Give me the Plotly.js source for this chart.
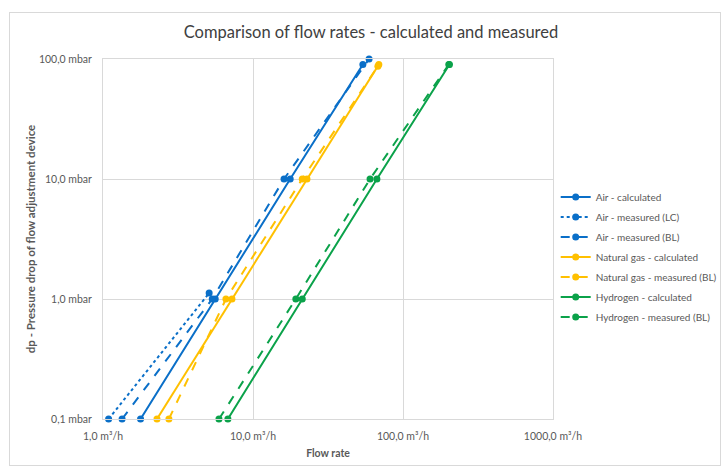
<!DOCTYPE html>
<html>
<head>
<meta charset="utf-8">
<script src="https://cdn.plot.ly/plotly-3.0.1.min.js"></script>
<style>
html,body{margin:0;padding:0;background:#fff;}
#wrap{position:relative;width:726px;height:472px;}
#chart{width:726px;height:472px;}
#frame{position:absolute;left:9px;top:12px;width:710px;height:452px;border:1px solid #d9d9d9;pointer-events:none;}
</style>
</head>
<body>
<div id="wrap"><div id="chart"></div><div id="frame"></div></div>
<script>
// Air
const airCalcQ = [1.78, 5.6, 17.7, 54];
const airCalcDp = [0.1, 1, 10, 90];
const airLcQ = [1.09, 5.1];
const airLcDp = [0.1, 1.12];
const airBlQ = [1.34, 5.35, 16.1, 59.4];
const airBlDp = [0.1, 1, 10, 100];
// Natural gas
const ngCalcQ = [2.29, 7.24, 22.9, 69];
const ngCalcDp = [0.1, 1, 10, 90];
const ngBlQ = [2.75, 6.6, 21.3, 68];
const ngBlDp = [0.1, 1, 10, 87];
// Hydrogen
const h2CalcQ = [6.8, 21.3, 67, 204];
const h2CalcDp = [0.1, 1, 10, 90];
const h2BlQ = [5.93, 19.3, 60.3, 202];
const h2BlDp = [0.1, 1, 10, 90];

const xTickVals = [1, 10, 100, 1000];
const xTickText = ['1,0 m³/h', '10,0 m³/h', '100,0 m³/h', '1000,0 m³/h'];
const yTickVals = [0.1, 1, 10, 100];
const yTickText = ['0,1 mbar', '1,0 mbar', '10,0 mbar', '100,0 mbar'];

const BLUE = '#0a6fc8', YELLOW = '#ffc000', GREEN = '#0ba24a';

function tr(name, x, y, color, dash, i) {
  return {
    type: 'scatter', mode: 'lines+markers', name: name, x: x, y: y,
    legendgroup: 'g' + i, cliponaxis: false,
    line: {color: color, width: 2, dash: dash},
    marker: {color: color, size: 7, symbol: 'circle'}
  };
}

const data = [
  tr('Air - calculated', airCalcQ, airCalcDp, BLUE, 'solid', 1),
  tr('Air - measured (LC)', airLcQ, airLcDp, BLUE, 'dot', 2),
  tr('Air - measured (BL)', airBlQ, airBlDp, BLUE, 'dash', 3),
  tr('Natural gas - calculated', ngCalcQ, ngCalcDp, YELLOW, 'solid', 4),
  tr('Natural gas - measured (BL)', ngBlQ, ngBlDp, YELLOW, 'dash', 5),
  tr('Hydrogen - calculated', h2CalcQ, h2CalcDp, GREEN, 'solid', 6),
  tr('Hydrogen - measured (BL)', h2BlQ, h2BlDp, GREEN, 'dash', 7)
];

const FONT = 'Lato, "Open Sans", sans-serif';

const layout = {
  width: 726, height: 472,
  margin: {l: 103, r: 173, t: 59, b: 53, autoexpand: false},
  paper_bgcolor: '#fff', plot_bgcolor: '#fff',
  font: {family: FONT, color: '#595959', size: 10},
  title: {text: 'Comparison of flow rates - calculated and measured',
          font: {family: FONT, size: 16.5, color: '#404040'},
          x: 0.511, xref: 'container', y: 0.945, yref: 'container', xanchor: 'center'},
  xaxis: {
    type: 'log', range: [0, 3],
    tickvals: xTickVals, ticktext: xTickText,
    showgrid: true, gridcolor: '#d9d9d9', gridwidth: 1,
    showline: true, linecolor: '#d9d9d9', mirror: true,
    zeroline: false, ticks: '', ticklen: 0, ticklabelstandoff: 7,
    tickfont: {size: 10.5, color: '#595959', family: FONT},
    title: {text: '<b>Flow rate</b>', font: {size: 10.5, color: '#595959', family: FONT}, standoff: 9}
  },
  yaxis: {
    type: 'log', range: [-1, 2],
    tickvals: yTickVals, ticktext: yTickText,
    showgrid: true, gridcolor: '#d9d9d9', gridwidth: 1,
    showline: true, linecolor: '#d9d9d9', mirror: true,
    zeroline: false, ticks: '', ticklen: 0, ticklabelstandoff: 8,
    tickfont: {size: 10.5, color: '#595959', family: FONT},
    title: {text: '<b>dp - Pressure drop of flow adjustment device</b>', font: {size: 11.5, color: '#595959', family: FONT}, standoff: 0}
  },
  showlegend: true,
  legend: {
    x: 1.006, xanchor: 'left', y: 0.657, yanchor: 'top',
    font: {size: 10, color: '#595959', family: FONT},
    bgcolor: 'rgba(0,0,0,0)', tracegroupgap: 1, itemwidth: 30
  }
};

Plotly.newPlot('chart', data, layout, {displayModeBar: false, staticPlot: true});
</script>
</body>
</html>
